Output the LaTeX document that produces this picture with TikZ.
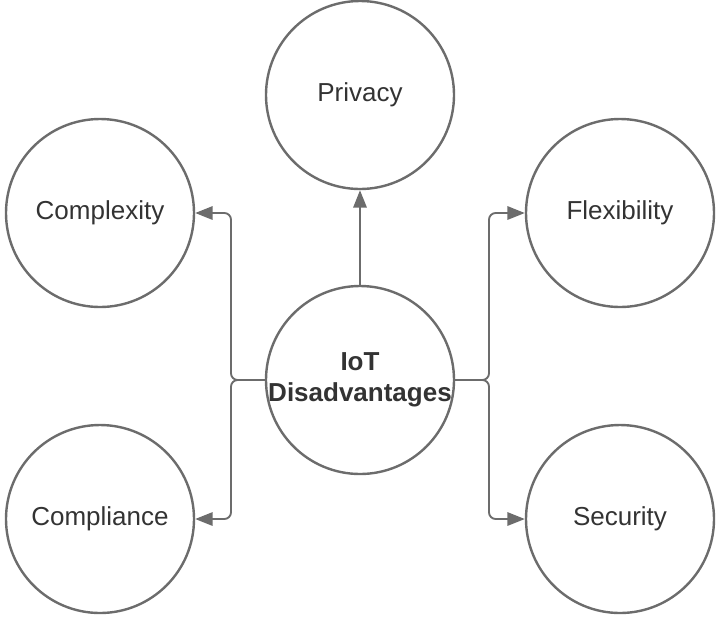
\documentclass[tikz,border=0pt]{standalone}
\usepackage{fontspec}
\setmainfont{Liberation Sans}
\usetikzlibrary{arrows.meta}
\definecolor{edgegray}{RGB}{108,108,108}
\definecolor{labelgray}{RGB}{51,51,51}
\tikzset{
  topic/.style={circle, draw=edgegray, line width=1.8pt, minimum size=141pt,
    inner sep=0pt, text=labelgray, font=\fontsize{19.5}{21}\selectfont},
  link/.style={draw=edgegray, line width=1.4pt, rounded corners=5pt,
    -{Triangle[length=13pt,width=10pt]}},
}
\begin{document}
\begin{tikzpicture}[x=0.75pt,y=0.75pt,yscale=-1,xscale=1]
\useasboundingbox (0,0) rectangle (720,619);

% Circles
\node[topic] (privacy) at (360,95) {Privacy};
\node[topic] (complexity) at (100,213) {Complexity};
\node[topic] (flexibility) at (620,213) {Flexibility};
\node[topic] (hub) at (360,380) {};
\node[topic] (compliance) at (100,519) {Compliance};
\node[topic] (security) at (620,519) {Security};

% Text Node
\node[text=labelgray, align=center, inner sep=0pt, font=\fontsize{19.5}{23}\selectfont\bfseries] (hubtext) at (360,380) {IoT\\Disadvantages};

% Connectors
\coordinate (lsplit) at (231,380);
\coordinate (rsplit) at (489,380);
\draw[link] (hub.north) -- (privacy.south);
\draw[link] (hub.west) -- (lsplit) |- (complexity.east);
\draw[link] (hub.west) -- (lsplit) |- (compliance.east);
\draw[link] (hub.east) -- (rsplit) |- (flexibility.west);
\draw[link] (hub.east) -- (rsplit) |- (security.west);

\end{tikzpicture}
\end{document}
